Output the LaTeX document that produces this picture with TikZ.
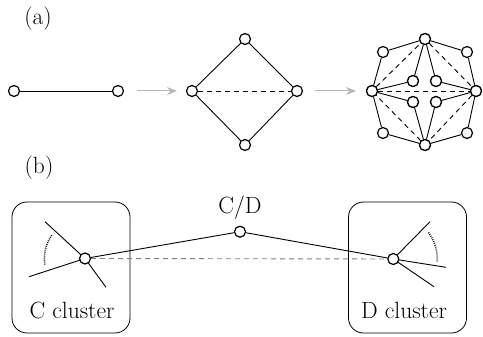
\documentclass[tikz,border=0pt]{standalone}
\usetikzlibrary{arrows.meta,calc}
\begin{document}
\begin{tikzpicture}[x=1pt,y=-1pt,
  vtx/.style={circle,draw,fill=white,line width=1.2pt,minimum size=11pt,inner sep=0pt},
  edge/.style={line width=0.9pt},
  dedge/.style={line width=0.9pt,dash pattern=on 5pt off 4pt},
  gdedge/.style={line width=0.9pt,dash pattern=on 5pt off 4pt,gray},
  garrow/.style={line width=1pt,color=black!28,-{Stealth[length=10pt,width=8pt]}},
  lbl/.style={font=\fontsize{23.5}{27}\selectfont,inner sep=0pt},
  cluster/.style={draw,line width=0.8pt,rounded corners=15pt},
  dotarc/.style={line width=1.6pt,dash pattern=on 0.8pt off 1.2pt}]
\useasboundingbox (0,0) rectangle (483,337);
% labels
\node[lbl] (la) at (38,19) {(a)};
\node[lbl] (lb) at (39,168) {(b)};
% (a) first
\node[vtx] (a1) at (14,91) {};
\node[vtx] (a2) at (118,91) {};
\draw[edge] (a1) -- (a2);
\coordinate (ar1s) at (137,91); \coordinate (ar1e) at (177,91);
\draw[garrow] (ar1s) -- (ar1e);
% (a) diamond
\node[vtx] (bl) at (192,91) {};
\node[vtx] (br) at (297,91) {};
\node[vtx] (bt) at (245,39) {};
\node[vtx] (bb) at (245,145) {};
\draw[edge] (bl) -- (bt) -- (br) -- (bb) -- (bl);
\draw[dedge] (bl) -- (br);
\coordinate (ar2s) at (315,91); \coordinate (ar2e) at (356,91);
\draw[garrow] (ar2s) -- (ar2e);
% (a) third
\node[vtx] (cl) at (372,91) {};
\node[vtx] (cr) at (476,91) {};
\node[vtx] (ct) at (425,39) {};
\node[vtx] (cb) at (425,145) {};
\node[vtx] (ctl) at (383,52) {};
\node[vtx] (ctr) at (467,52) {};
\node[vtx] (cbl) at (383,133) {};
\node[vtx] (cbr) at (467,133) {};
\node[vtx] (iul) at (413,81) {};
\node[vtx] (iur) at (436,81) {};
\node[vtx] (ill) at (413,102) {};
\node[vtx] (ilr) at (436,102) {};
\draw[dedge] (cl) -- (ct); \draw[dedge] (ct) -- (cr);
\draw[dedge] (cr) -- (cb); \draw[dedge] (cb) -- (cl);
\draw[dedge] (cl) -- (cr);
\draw[edge] (cl) -- (ctl); \draw[edge] (ctl) -- (ct);
\draw[edge] (ct) -- (ctr); \draw[edge] (ctr) -- (cr);
\draw[edge] (cr) -- (cbr); \draw[edge] (cbr) -- (cb);
\draw[edge] (cb) -- (cbl); \draw[edge] (cbl) -- (cl);
\draw[edge] (cl) -- (iul); \draw[edge] (cl) -- (ill);
\draw[edge] (ct) -- (iul); \draw[edge] (ct) -- (iur);
\draw[edge] (cr) -- (iur); \draw[edge] (cr) -- (ilr);
\draw[edge] (cb) -- (ill); \draw[edge] (cb) -- (ilr);
\node[vtx] at (cl) {}; \node[vtx] at (cr) {}; \node[vtx] at (ct) {}; \node[vtx] at (cb) {};
\node[vtx] at (iul) {}; \node[vtx] at (iur) {}; \node[vtx] at (ill) {}; \node[vtx] at (ilr) {};
% (b) boxes
\node[cluster,minimum width=118pt,minimum height=131pt] (cbox) at (71,267.5) {};
\node[cluster,minimum width=118pt,minimum height=131pt] (dbox) at (407.5,267.5) {};
\node[lbl,anchor=base] (ctext) at (72,318) {C cluster};
\node[lbl,anchor=base] (dtext) at (404,318) {D cluster};
% left cluster
\coordinate (L) at (85,258.5);
\coordinate (Lul) at (45,221.7);
\coordinate (Lll) at (29,276.7);
\coordinate (Llr) at (106,287.3);
\draw[edge] (L) -- (Lul); \draw[edge] (L) -- (Lll); \draw[edge] (L) -- (Llr);
\draw[dotarc] ($(L)+(-145:40.6)$) arc[start angle=-145,end angle=-190,radius=40.6];
% right cluster
\coordinate (R) at (393.3,259);
\coordinate (Rur) at (430,221.7);
\coordinate (Rr) at (446,267.3);
\coordinate (Rlr) at (434,286.7);
\draw[edge] (R) -- (Rur); \draw[edge] (R) -- (Rr); \draw[edge] (R) -- (Rlr);
\draw[dotarc] ($(R)+(-37:44)$) arc[start angle=-37,end angle=4,radius=44];
% C/D
\node[vtx] (cd) at (240,231.7) {};
\node[lbl] (cdtext) at (240,208) {C/D};
\node[vtx] (ln) at (L) {};
\node[vtx] (rn) at (R) {};
\draw[gdedge] (ln) -- (rn);
\draw[edge] (ln) -- (cd);
\draw[edge] (cd) -- (rn);
\end{tikzpicture}
\end{document}
